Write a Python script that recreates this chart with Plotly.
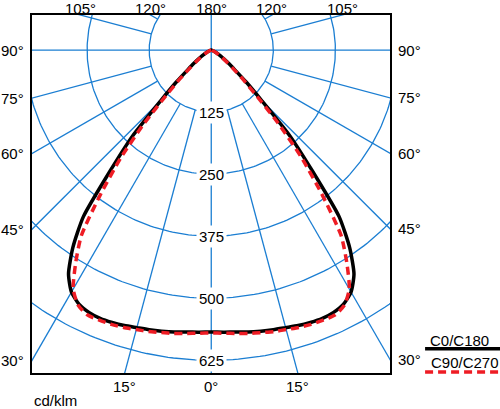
import numpy as np
import plotly.graph_objects as go

# gamma angle from nadir (deg) and luminous intensity (cd/klm)
GAMMA = [0, 2.5, 5, 7.5, 10, 12.5, 15, 17.5, 20, 22.5, 25, 27.5, 30, 32.5, 35, 37.5,
         40, 42.5, 45, 47.5, 50, 52.5, 55, 57.5, 60, 65, 70, 75, 80, 85, 90]
C0_C180 = [568, 569, 570, 573, 575, 577, 579, 582, 584, 585, 583, 577, 563, 535, 486, 423,
           314, 234, 143, 96, 62, 44, 31, 22, 15, 7, 3, 1, 0, 0, 0]
C90_C270 = [570, 571, 573, 576, 578, 581, 583, 586, 588, 589, 589, 580, 556, 508, 456, 366,
            283, 198, 124, 84, 55, 38, 27, 19, 13, 6, 2, 1, 0, 0, 0]

RINGS = [125, 250, 375, 500, 625]
RAY_STEP = 15
SIDE_LABELS = [90, 75, 60, 45, 30]
TOP_LABELS = [105, 120]
BOTTOM_LABELS = [15]

X_LEFT, X_RIGHT = -361, 360
Y_BOTTOM, Y_TOP = -650.6, 70.6

GRID = '#1b7ed2'
FONT = dict(family='Arial, Liberation Sans, sans-serif', size=15, color='black')


def to_xy(gamma, values):
    g = np.radians(np.asarray(gamma, dtype=float))
    r = np.asarray(values, dtype=float)
    g = np.concatenate([-g[::-1], g[1:]])
    r = np.concatenate([r[::-1], r[1:]])
    return r * np.sin(g), -r * np.cos(g)


fig = go.Figure()

# rings
t = np.radians(np.arange(0, 361, 1))
ring_x, ring_y = [], []
for R in RINGS:
    ring_x += list(R * np.sin(t)) + [None]
    ring_y += list(-R * np.cos(t)) + [None]
fig.add_trace(go.Scatter(x=ring_x, y=ring_y, mode='lines', hoverinfo='skip',
                         line=dict(color=GRID, width=1.3)))

# rays
ray_x, ray_y = [], []
for a in range(0, 360, RAY_STEP):
    r0 = 0 if a % 90 == 0 else RINGS[0]
    ar = np.radians(a)
    ray_x += [r0 * np.sin(ar), 1000 * np.sin(ar), None]
    ray_y += [-r0 * np.cos(ar), -1000 * np.cos(ar), None]
fig.add_trace(go.Scatter(x=ray_x, y=ray_y, mode='lines', hoverinfo='skip',
                         line=dict(color=GRID, width=1.3)))

# intensity curves
x0, y0 = to_xy(GAMMA, C0_C180)
x1, y1 = to_xy(GAMMA, C90_C270)
fig.add_trace(go.Scatter(x=x0, y=y0, mode='lines', name='C0/C180',
                         line=dict(color='black', width=3.5, shape='spline', smoothing=0.6)))
fig.add_trace(go.Scatter(x=x1, y=y1, mode='lines', name='C90/C270',
                         line=dict(color='#ee1c24', width=3.5, dash='8px,5px',
                                   shape='spline', smoothing=0.6)))

ann = []
for R in RINGS:
    ann.append(dict(x=0, y=-R, text=str(R), showarrow=False, bgcolor='white',
                    borderpad=2, font=FONT))

for a in SIDE_LABELS:
    ar = np.radians(a)
    ann.append(dict(x=X_LEFT, y=X_LEFT * np.cos(ar) / np.sin(ar), text=f'{a}°',
                    showarrow=False, xanchor='right', xshift=-6, font=FONT))
    ann.append(dict(x=X_RIGHT, y=-X_RIGHT * np.cos(ar) / np.sin(ar), text=f'{a}°',
                    showarrow=False, xanchor='left', xshift=6, font=FONT))

for a in TOP_LABELS:
    xt = -Y_TOP * np.tan(np.radians(a))
    for sx in (-1, 1):
        ann.append(dict(x=sx * xt, y=Y_TOP, text=f'{a}°', showarrow=False,
                        yanchor='bottom', yshift=-3, borderpad=0, font=FONT))
ann.append(dict(x=0, y=Y_TOP, text='180°', showarrow=False, yanchor='bottom',
                yshift=-3, borderpad=0, font=FONT))

for a in BOTTOM_LABELS:
    xb = -Y_BOTTOM * np.tan(np.radians(a))
    for sx in (-1, 1):
        ann.append(dict(x=sx * xb, y=Y_BOTTOM, text=f'{a}°', showarrow=False,
                        yanchor='top', yshift=-3, font=FONT))
ann.append(dict(x=0, y=Y_BOTTOM, text='0°', showarrow=False, yanchor='top',
                yshift=-3, font=FONT))

ann.append(dict(x=0, y=0, xref='paper', yref='paper', text='cd/klm', showarrow=False,
                xanchor='left', yanchor='middle', xshift=1, yshift=-27, borderpad=0,
                font=FONT))

# legend (text with line underneath)
ann.append(dict(x=1.105, y=0.09, xref='paper', yref='paper', text='C0/C180',
                showarrow=False, xanchor='left', yanchor='middle', font=FONT))
ann.append(dict(x=1.108, y=0.028, xref='paper', yref='paper', text='C90/C270',
                showarrow=False, xanchor='left', yanchor='middle', font=FONT))

shapes = [
    dict(type='line', xref='paper', yref='paper', x0=1.098, x1=1.31, y0=0.068, y1=0.068,
         line=dict(color='black', width=3.5)),
    dict(type='line', xref='paper', yref='paper', x0=1.098, x1=1.31, y0=0.003, y1=0.003,
         line=dict(color='#ee1c24', width=3.5, dash='8px,5px')),
]

fig.update_layout(
    width=500, height=409,
    margin=dict(l=32, r=110, t=15, b=36),
    paper_bgcolor='white', plot_bgcolor='white',
    showlegend=False,
    annotations=ann, shapes=shapes,
    xaxis=dict(range=[X_LEFT, X_RIGHT], showgrid=False, zeroline=False, showticklabels=False,
               ticks='', showline=True, mirror=True, linecolor='black', linewidth=1.5,
               fixedrange=True),
    yaxis=dict(range=[Y_BOTTOM, Y_TOP], showgrid=False, zeroline=False, showticklabels=False,
               ticks='', showline=True, mirror=True, linecolor='black', linewidth=1.5,
               fixedrange=True),
)

fig.write_html('out.html', config={'displayModeBar': False},
               post_script="document.body.style.margin='0';document.body.style.overflow='hidden';")
